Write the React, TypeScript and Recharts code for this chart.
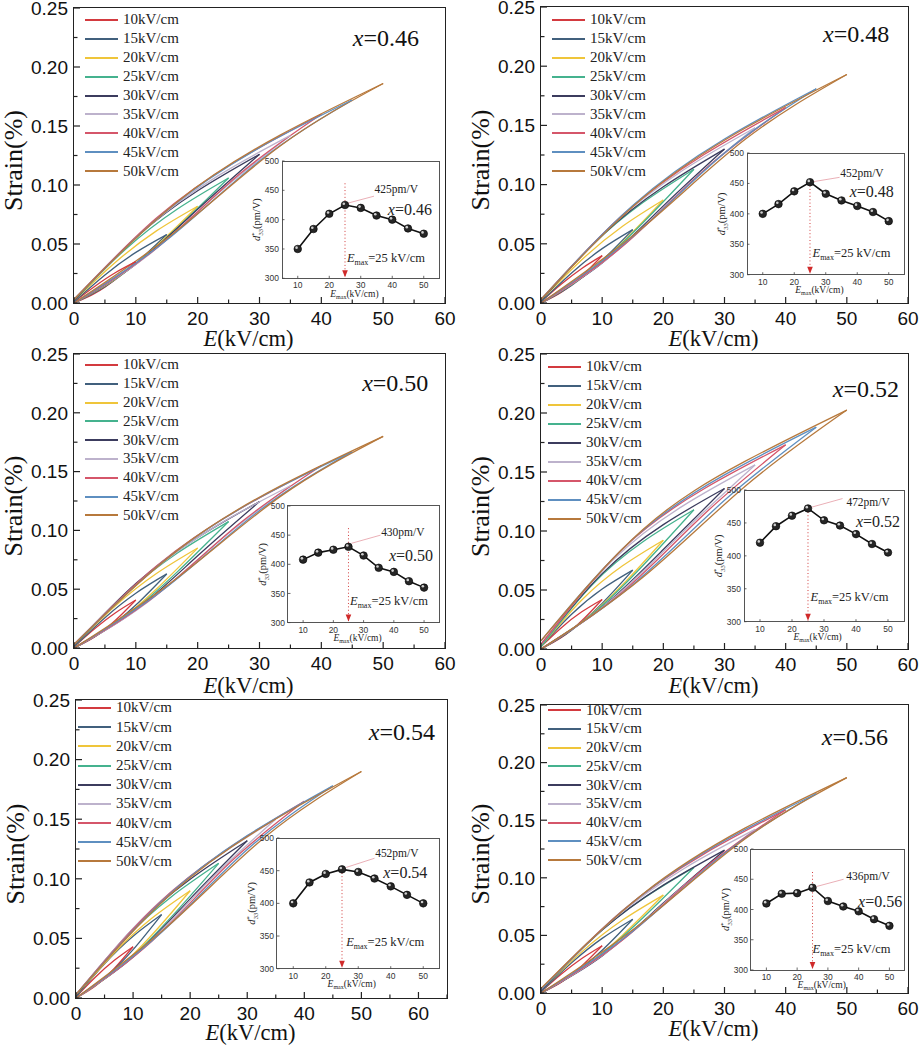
import React from 'react';
import { LineChart, Line, XAxis, YAxis, ReferenceDot, ReferenceLine } from 'recharts';

const serif = "'Liberation Serif', 'Times New Roman', serif";
const sans = "'Liberation Sans', Arial, sans-serif";

// ---------- categories / ticks ----------
const fields = [10, 15, 20, 25, 30, 35, 40, 45, 50];
const fieldLabels = ['10kV/cm', '15kV/cm', '20kV/cm', '25kV/cm', '30kV/cm', '35kV/cm', '40kV/cm', '45kV/cm', '50kV/cm'];
const loopColors = ['#d33a3f', '#41607d', '#efc53a', '#45b28e', '#3c3c5e', '#bdb2cc', '#d5566a', '#5e8fc0', '#b7793c'];
const yTicks = [0, 0.025, 0.05, 0.075, 0.1, 0.125, 0.15, 0.175, 0.2, 0.225, 0.25];
const xTicks60 = [0, 5, 10, 15, 20, 25, 30, 35, 40, 45, 50, 55, 60];
const xTicks65 = [0, 5, 10, 15, 20, 25, 30, 35, 40, 45, 50, 55, 60, 65];
const insetXTicks = [10, 20, 30, 40, 50];
const insetYTicks = [300, 350, 400, 450, 500];

// ---------- inset d33* values (pm/V) ----------
const d33_046 = [350, 384, 410, 425, 420, 407, 400, 385, 376];
const d33_048 = [400, 416, 437, 452, 433, 422, 413, 403, 388];
const d33_050 = [408, 420, 425, 430, 415, 394, 387, 371, 360];
const d33_052 = [420, 445, 461, 472, 454, 446, 433, 418, 405];
const d33_054 = [400, 432, 445, 452, 448, 438, 426, 413, 400];
const d33_056 = [410, 426, 427, 436, 414, 405, 397, 384, 373];

// ---------- strain loops (%): tip at Emax, lower/upper branch at Emax/3 and 2Emax/3, upper at E=0 ----------
const tip_046 = [0.035, 0.058, 0.082, 0.106, 0.126, 0.142, 0.160, 0.172, 0.186];
const lowA_046 = [0.0081, 0.0139, 0.0201, 0.0265, 0.0328, 0.0391, 0.0464, 0.0533, 0.0614];
const lowB_046 = [0.0200, 0.0336, 0.0484, 0.0636, 0.0794, 0.0930, 0.1088, 0.1204, 0.1330];
const upA_046 = [0.0140, 0.0238, 0.0344, 0.0456, 0.0554, 0.0632, 0.0720, 0.0783, 0.0856];
const upB_046 = [0.0256, 0.0429, 0.0611, 0.0795, 0.0951, 0.1079, 0.1216, 0.1316, 0.1423];
const up0_046 = [0.001, 0.001, 0.002, 0.002, 0.002, 0.003, 0.003, 0.003, 0.003];

const tip_048 = [0.040, 0.062, 0.087, 0.113, 0.130, 0.148, 0.165, 0.181, 0.193];
const lowA_048 = [0.0092, 0.0149, 0.0213, 0.0283, 0.0338, 0.0407, 0.0479, 0.0561, 0.0637];
const lowB_048 = [0.0228, 0.0360, 0.0513, 0.0678, 0.0819, 0.0969, 0.1122, 0.1267, 0.1380];
const upA_048 = [0.0160, 0.0254, 0.0365, 0.0486, 0.0572, 0.0659, 0.0743, 0.0824, 0.0888];
const upB_048 = [0.0292, 0.0459, 0.0648, 0.0848, 0.0982, 0.1125, 0.1254, 0.1385, 0.1476];
const up0_048 = [0.001, 0.001, 0.002, 0.002, 0.002, 0.003, 0.003, 0.003, 0.003];

const tip_050 = [0.0408, 0.063, 0.085, 0.1075, 0.1245, 0.138, 0.155, 0.167, 0.180];
const lowA_050 = [0.0094, 0.0151, 0.0208, 0.0269, 0.0324, 0.0380, 0.0450, 0.0518, 0.0594];
const lowB_050 = [0.0233, 0.0365, 0.0502, 0.0645, 0.0784, 0.0904, 0.1054, 0.1169, 0.1287];
const upA_050 = [0.0163, 0.0258, 0.0357, 0.0462, 0.0548, 0.0614, 0.0698, 0.0760, 0.0828];
const upB_050 = [0.0298, 0.0466, 0.0633, 0.0806, 0.0940, 0.1049, 0.1178, 0.1278, 0.1377];
const up0_050 = [0.001, 0.001, 0.002, 0.002, 0.002, 0.003, 0.003, 0.003, 0.003];

const tip_052 = [0.042, 0.0668, 0.0922, 0.118, 0.136, 0.156, 0.173, 0.188, 0.2025];
const lowA_052 = [0.0097, 0.0160, 0.0226, 0.0295, 0.0354, 0.0421, 0.0484, 0.0545, 0.0608];
const lowB_052 = [0.0239, 0.0387, 0.0544, 0.0708, 0.0843, 0.0998, 0.1142, 0.1260, 0.1377];
const upA_052 = [0.0181, 0.0294, 0.0415, 0.0543, 0.0639, 0.0749, 0.0848, 0.0931, 0.1013];
const upB_052 = [0.0315, 0.0508, 0.0705, 0.0909, 0.1054, 0.1217, 0.1358, 0.1476, 0.1590];
const up0_052 = [0.002, 0.002, 0.002, 0.002, 0.004, 0.004, 0.004, 0.007, 0.007];

const tip_054 = [0.043, 0.070, 0.090, 0.113, 0.132, 0.150, 0.165, 0.178, 0.190];
const lowA_054 = [0.0099, 0.0168, 0.0221, 0.0283, 0.0343, 0.0413, 0.0479, 0.0552, 0.0627];
const lowB_054 = [0.0245, 0.0406, 0.0531, 0.0678, 0.0832, 0.0983, 0.1122, 0.1246, 0.1359];
const upA_054 = [0.0172, 0.0287, 0.0378, 0.0486, 0.0581, 0.0668, 0.0743, 0.0810, 0.0874];
const upB_054 = [0.0314, 0.0518, 0.0671, 0.0848, 0.0997, 0.1140, 0.1254, 0.1362, 0.1454];
const up0_054 = [0.001, 0.001, 0.002, 0.002, 0.002, 0.003, 0.003, 0.003, 0.003];

const tip_056 = [0.041, 0.064, 0.085, 0.109, 0.124, 0.142, 0.159, 0.173, 0.187];
const lowA_056 = [0.0094, 0.0154, 0.0208, 0.0273, 0.0322, 0.0391, 0.0461, 0.0536, 0.0617];
const lowB_056 = [0.0234, 0.0371, 0.0502, 0.0654, 0.0781, 0.0930, 0.1081, 0.1211, 0.1337];
const upA_056 = [0.0164, 0.0262, 0.0357, 0.0469, 0.0546, 0.0632, 0.0716, 0.0787, 0.0860];
const upB_056 = [0.0299, 0.0474, 0.0633, 0.0818, 0.0936, 0.1079, 0.1208, 0.1323, 0.1431];
const up0_056 = [0.001, 0.001, 0.002, 0.002, 0.002, 0.003, 0.003, 0.003, 0.004];

type Loops = { tip: number[]; lowA: number[]; lowB: number[]; upA: number[]; upB: number[]; up0: number[] };

type Panel = {
  label: string;
  plot: [number, number, number, number];
  xMax: number;
  xTicks: number[];
  loops: Loops;
  d33: number[];
  peakText: string;
  inset: [number, number, number, number];
  legend: [number, number, number];
  xlab: [number, number];
  titleDy: number;
  ann: {
    peak: [number, number];
    arrow: [[number, number], [number, number]];
    xText: [number, number];
    eText: [number, number];
    dotTop: number;
  };
};

const panels: Panel[] = [
  {
    label: '0.46', plot: [74, 8, 445, 303], xMax: 60, xTicks: xTicks60, titleDy: 35.5,
    loops: { tip: tip_046, lowA: lowA_046, lowB: lowB_046, upA: upA_046, upB: upB_046, up0: up0_046 },
    d33: d33_046, peakText: '425pm/V', inset: [282.25, 161, 439.75, 278.3], legend: [85, 20, 18.9], xlab: [45.1, 0.2246],
    ann: { peak: [34.4, 452], arrow: [[34.2, 440], [25.8, 428]], xText: [38.6, 417], eText: [25.6, 335], dotTop: 462 },
  },
  {
    label: '0.48', plot: [541, 7, 908, 303], xMax: 60, xTicks: xTicks60, titleDy: 35.5,
    loops: { tip: tip_048, lowA: lowA_048, lowB: lowB_048, upA: upA_048, upB: upB_048, up0: up0_048 },
    d33: d33_048, peakText: '452pm/V', inset: [747.25, 153.3, 904.75, 275], legend: [552, 20, 18.9], xlab: [46.1, 0.2272],
    ann: { peak: [34.6, 467], arrow: [[34.4, 460], [26.2, 453]], xText: [37.6, 437], eText: [25.8, 336], dotTop: 452 },
  },
  {
    label: '0.50', plot: [74, 354, 445, 648], xMax: 60, xTicks: xTicks60, titleDy: 37,
    loops: { tip: tip_050, lowA: lowA_050, lowB: lowB_050, upA: upA_050, upB: upB_050, up0: up0_050 },
    d33: d33_050, peakText: '430pm/V', inset: [287.9, 505.7, 439.1, 622.3], legend: [85, 365, 18.8], xlab: [46.6, 0.2253],
    ann: { peak: [35.8, 455], arrow: [[35.6, 450], [26.0, 436]], xText: [38.4, 416], eText: [25.5, 338], dotTop: 462 },
  },
  {
    label: '0.52', plot: [541, 354, 908, 649], xMax: 60, xTicks: xTicks60, titleDy: 36,
    loops: { tip: tip_052, lowA: lowA_052, lowB: lowB_052, upA: upA_052, upB: upB_052, up0: up0_052 },
    d33: d33_052, peakText: '472pm/V', inset: [744, 490, 904, 621.7], legend: [548, 367, 18.96], xlab: [47.7, 0.2203],
    ann: { peak: [37, 482], arrow: [[35.8, 487], [26.2, 474]], xText: [40, 453], eText: [25.8, 338], dotTop: 472 },
  },
  {
    label: '0.54', plot: [76, 700, 447, 998], xMax: 65, xTicks: xTicks65, titleDy: 34,
    loops: { tip: tip_054, lowA: lowA_054, lowB: lowB_054, upA: upA_054, upB: upB_054, up0: up0_054 },
    d33: d33_054, peakText: '452pm/V', inset: [276.75, 838.3, 439.25, 969], legend: [78, 708, 19.2], xlab: [51.3, 0.2232],
    ann: { peak: [35.2, 477], arrow: [[35.0, 469], [26.3, 455]], xText: [37.7, 448], eText: [26.3, 342], dotTop: 452 },
  },
  {
    label: '0.56', plot: [541, 705, 908, 993], xMax: 60, xTicks: xTicks60, titleDy: 35.5,
    loops: { tip: tip_056, lowA: lowA_056, lowB: lowB_056, upA: upA_056, upB: upB_056, up0: up0_056 },
    d33: d33_056, peakText: '436pm/V', inset: [750.6, 849, 904.4, 970], legend: [548, 710, 18.75], xlab: [45.9, 0.2222],
    ann: { peak: [36, 455], arrow: [[35.1, 450], [26.3, 438]], xText: [39.8, 414], eText: [25, 336], dotTop: 462 },
  },
];

function buildLoops(p: Loops) {
  return fields.map((E, i) => ({
    lower: [
      { e: 0, s: 0 },
      { e: E / 3, s: p.lowA[i] },
      { e: (2 * E) / 3, s: p.lowB[i] },
      { e: E, s: p.tip[i] },
    ],
    upper: [
      { e: 0, s: p.up0[i] },
      { e: E / 3, s: p.upA[i] },
      { e: (2 * E) / 3, s: p.upB[i] },
      { e: E, s: p.tip[i] },
    ],
  }));
}

const MainYTick = (props: any) => {
  const { x, y, payload } = props;
  const v = payload.value as number;
  const major = Math.abs(v * 20 - Math.round(v * 20)) < 1e-6;
  return (
    <g>
      <line x1={x} x2={x + (major ? 6 : 3.5)} y1={y} y2={y} stroke="#222" strokeWidth={1.2} />
      {major && (
        <text x={x - 6} y={y} dy="0.36em" textAnchor="end" fontSize={19} fontFamily={sans} fill="#111">
          {v.toFixed(2)}
        </text>
      )}
    </g>
  );
};

const MainXTick = (props: any) => {
  const { x, y, payload } = props;
  const v = payload.value as number;
  const major = v % 10 === 0;
  return (
    <g>
      <line x1={x} x2={x} y1={y} y2={y - (major ? 6 : 3.5)} stroke="#222" strokeWidth={1.2} />
      {major && (
        <text x={x} y={y + 15} dy="0.36em" textAnchor="middle" fontSize={19} fontFamily={sans} fill="#111">
          {v}
        </text>
      )}
    </g>
  );
};

const InsetXTick = (props: any) => {
  const { x, y, payload } = props;
  return (
    <g>
      <line x1={x} x2={x} y1={y} y2={y - 2.5} stroke="#444" strokeWidth={0.8} />
      <text x={x} y={y + 7} dy="0.36em" textAnchor="middle" fontSize={8.5} fontFamily={sans} fill="#333">
        {payload.value}
      </text>
    </g>
  );
};

const InsetYTick = (props: any) => {
  const { x, y, payload } = props;
  return (
    <g>
      <line x1={x} x2={x + 2.5} y1={y} y2={y} stroke="#444" strokeWidth={0.8} />
      <text x={x - 3} y={y} dy="0.36em" textAnchor="end" fontSize={8.5} fontFamily={sans} fill="#333">
        {payload.value}
      </text>
    </g>
  );
};

const InsetDot = (props: any) => {
  const { cx, cy, index } = props;
  if (cx == null || cy == null) return <g key={index} />;
  return (
    <g key={index}>
      <circle cx={cx} cy={cy} r={3.8} fill="#262626" stroke="#000" strokeWidth={0.6} />
      <circle cx={cx - 1.2} cy={cy - 1.3} r={1.3} fill="#cfcfcf" />
    </g>
  );
};

function MainPanel({ p }: { p: Panel }) {
  const [pl, pt, pr, pb] = p.plot;
  const yW = 60, xH = 40;
  const mL = 74, mT = 10, mR = 16, mB = 52;
  const w = pr - pl + mL + mR;
  const h = pb - pt + mT + mB;
  const loops = buildLoops(p.loops);
  return (
    <>
      <div style={{ position: 'absolute', left: pl - mL, top: pt - mT }}>
        <LineChart width={w} height={h} margin={{ left: mL - yW, top: mT, right: mR, bottom: mB - xH }}>
          <XAxis
            type="number"
            dataKey="e"
            domain={[0, p.xMax]}
            ticks={p.xTicks}
            interval={0}
            height={xH}
            axisLine={false}
            tickLine={false}
            tickSize={0}
            tickMargin={0}
            tick={MainXTick}
            allowDataOverflow
          />
          <YAxis
            type="number"
            dataKey="s"
            domain={[0, 0.25]}
            ticks={yTicks}
            interval={0}
            width={yW}
            axisLine={false}
            tickLine={false}
            tickSize={0}
            tickMargin={0}
            tick={MainYTick}
            allowDataOverflow
          />
          {loops.map((lp, i) => (
            <Line
              key={'lo' + i}
              data={lp.lower}
              dataKey="s"
              type="natural"
              stroke={loopColors[i]}
              strokeWidth={1.3}
              dot={false}
              activeDot={false}
              isAnimationActive={false}
            />
          ))}
          {loops.map((lp, i) => (
            <Line
              key={'up' + i}
              data={lp.upper}
              dataKey="s"
              type="natural"
              stroke={loopColors[i]}
              strokeWidth={1.3}
              dot={false}
              activeDot={false}
              isAnimationActive={false}
            />
          ))}
          <ReferenceDot
            x={p.xlab[0]}
            y={p.xlab[1]}
            r={0}
            ifOverflow="visible"
            shape={(d: any) => (
              <text x={d.cx} y={d.cy} dy="0.35em" fontSize={24} fontFamily={serif} fill="#111">
                <tspan fontStyle="italic">x</tspan>={p.label}
              </text>
            )}
          />
          <ReferenceDot
            x={0}
            y={0.125}
            r={0}
            ifOverflow="visible"
            shape={(d: any) => (
              <text
                x={d.cx - 61}
                y={d.cy + 5}
                dy="0.35em"
                textAnchor="middle"
                fontSize={26}
                fontFamily={serif}
                fill="#111"
                transform={`rotate(-90, ${d.cx - 61}, ${d.cy + 5})`}
              >
                Strain(%)
              </text>
            )}
          />
          <ReferenceDot
            x={p.xMax / 2}
            y={0}
            r={0}
            ifOverflow="visible"
            shape={(d: any) => (
              <text x={d.cx - 11} y={d.cy + p.titleDy} dy="0.35em" textAnchor="middle" fontSize={22.5} fontFamily={serif} fill="#111">
                <tspan fontStyle="italic">E</tspan>(kV/cm)
              </text>
            )}
          />
        </LineChart>
      </div>
      <div
        style={{
          position: 'absolute',
          left: pl - 0.75,
          top: pt - 0.75,
          width: pr - pl + 1.5,
          height: pb - pt + 1.5,
          border: '1.5px solid #222',
          boxSizing: 'border-box',
          pointerEvents: 'none',
        }}
      />
      <div style={{ position: 'absolute', left: p.legend[0], top: p.legend[1] - p.legend[2] / 2 }}>
        {fieldLabels.map((lab, i) => (
          <div key={lab} style={{ height: p.legend[2], display: 'flex', alignItems: 'center' }}>
            <div style={{ width: 33, height: 0, borderTop: `2px solid ${loopColors[i]}`, marginRight: 5 }} />
            <span style={{ fontFamily: serif, fontSize: 15, color: '#222', lineHeight: 1 }}>{lab}</span>
          </div>
        ))}
      </div>
    </>
  );
}

function InsetPanel({ p }: { p: Panel }) {
  const [il, it, ir, ib] = p.inset;
  const yW = 30, xH = 20;
  const mL = 36, mT = 4, mR = 4, mB = 24;
  const w = ir - il + mL + mR;
  const h = ib - it + mT + mB;
  const pts = fields.map((e, i) => ({ e, d: p.d33[i] }));
  const a = p.ann;
  return (
    <>
      <div
        style={{
          position: 'absolute',
          left: il - 0.5,
          top: it - 0.5,
          width: ir - il + 1,
          height: ib - it + 1,
          background: '#fff',
          border: '1px solid #555',
          boxSizing: 'border-box',
        }}
      />
      <div style={{ position: 'absolute', left: il - mL, top: it - mT }}>
        <LineChart width={w} height={h} margin={{ left: mL - yW, top: mT, right: mR, bottom: mB - xH }}>
          <XAxis
            type="number"
            dataKey="e"
            domain={[5, 55]}
            ticks={insetXTicks}
            interval={0}
            height={xH}
            axisLine={false}
            tickLine={false}
            tickSize={0}
            tickMargin={0}
            tick={InsetXTick}
            allowDataOverflow
          />
          <YAxis
            type="number"
            dataKey="d"
            domain={[300, 500]}
            ticks={insetYTicks}
            interval={0}
            width={yW}
            axisLine={false}
            tickLine={false}
            tickSize={0}
            tickMargin={0}
            tick={InsetYTick}
            allowDataOverflow
          />
          <ReferenceLine
            segment={[{ x: 25, y: a.dotTop }, { x: 25, y: 301 }]}
            stroke="#d23c3c"
            strokeWidth={1}
            strokeDasharray="1 2.4"
            ifOverflow="visible"
          />
          <ReferenceLine
            segment={[{ x: a.arrow[0][0], y: a.arrow[0][1] }, { x: a.arrow[1][0], y: a.arrow[1][1] }]}
            stroke="#e59aa3"
            strokeWidth={0.8}
            ifOverflow="visible"
          />
          <Line
            data={pts}
            dataKey="d"
            type="linear"
            stroke="#111"
            strokeWidth={1.6}
            dot={InsetDot}
            activeDot={false}
            isAnimationActive={false}
          />
          <ReferenceDot
            x={25}
            y={300}
            r={0}
            ifOverflow="visible"
            shape={(d: any) => (
              <path d={`M${d.cx - 2.8},${d.cy - 8} L${d.cx + 2.8},${d.cy - 8} L${d.cx},${d.cy - 1} Z`} fill="#d02a2a" />
            )}
          />
          <ReferenceDot
            x={a.peak[0]}
            y={a.peak[1]}
            r={0}
            ifOverflow="visible"
            shape={(d: any) => (
              <text x={d.cx} y={d.cy} dy="0.35em" fontSize={11.5} fontFamily={serif} fill="#222">
                {p.peakText}
              </text>
            )}
          />
          <ReferenceDot
            x={a.xText[0]}
            y={a.xText[1]}
            r={0}
            ifOverflow="visible"
            shape={(d: any) => (
              <text x={d.cx} y={d.cy} dy="0.35em" fontSize={16} fontFamily={serif} fill="#222">
                <tspan fontStyle="italic">x</tspan>={p.label}
              </text>
            )}
          />
          <ReferenceDot
            x={a.eText[0]}
            y={a.eText[1]}
            r={0}
            ifOverflow="visible"
            shape={(d: any) => (
              <text x={d.cx} y={d.cy} dy="0.35em" fontSize={12.5} fontFamily={serif} fill="#222">
                <tspan fontStyle="italic">E</tspan>
                <tspan fontSize={8} dy={3}>max</tspan>
                <tspan dy={-3}>=25 kV/cm</tspan>
              </text>
            )}
          />
          <ReferenceDot
            x={5}
            y={400}
            r={0}
            ifOverflow="visible"
            shape={(d: any) => (
              <text
                x={d.cx - 26}
                y={d.cy}
                dy="0.35em"
                textAnchor="middle"
                fontSize={10.5}
                fontFamily={serif}
                fill="#222"
                transform={`rotate(-90, ${d.cx - 26}, ${d.cy})`}
              >
                <tspan fontStyle="italic">d</tspan>
                <tspan fontSize={6.5} dy={-4}>*</tspan>
                <tspan fontSize={6.5} dx={-3} dy={7}>33</tspan>
                <tspan dy={-3}>(pm/V)</tspan>
              </text>
            )}
          />
          <ReferenceDot
            x={28}
            y={300}
            r={0}
            ifOverflow="visible"
            shape={(d: any) => (
              <text x={d.cx} y={d.cy + 15} dy="0.35em" textAnchor="middle" fontSize={9.5} fontFamily={serif} fill="#222">
                <tspan fontStyle="italic">E</tspan>
                <tspan fontSize={6} dy={2}>max</tspan>
                <tspan dy={-2}>(kV/cm)</tspan>
              </text>
            )}
          />
        </LineChart>
      </div>
    </>
  );
}

export default function App() {
  return (
    <div style={{ position: 'absolute', left: 0, top: 0, width: 923, height: 1046, background: '#fff', overflow: 'hidden' }}>
      {panels.map((p) => (
        <React.Fragment key={p.label}>
          <MainPanel p={p} />
          <InsetPanel p={p} />
        </React.Fragment>
      ))}
    </div>
  );
}
